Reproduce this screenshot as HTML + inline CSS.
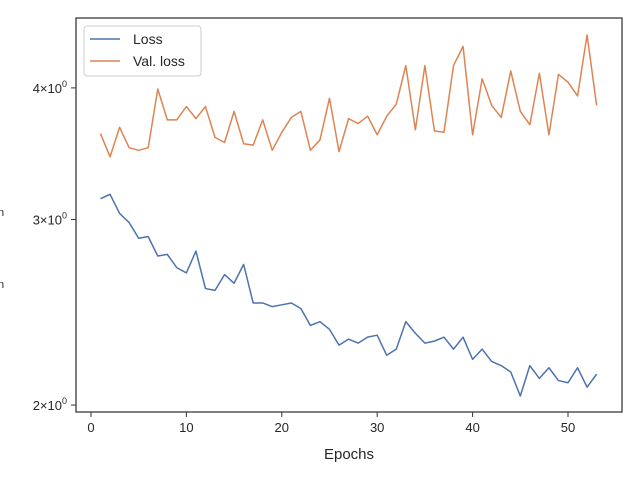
<!DOCTYPE html>
<html><head><meta charset="utf-8"><style>
body{margin:0;background:#fff;}
svg{display:block;font-family:"Liberation Sans","DejaVu Sans",sans-serif;}
</style></head><body>
<svg id="chart" width="640" height="480">
<rect x="0" y="0" width="640" height="480" fill="#fff"/>
<g id="plot"></g>
</svg>
<script>
const epochs = [];
for (let i = 1; i <= 53; i++) epochs.push(i);
const lossValues = [3.14,3.17,3.04,2.98,2.88,2.89,2.77,2.78,2.70,2.67,2.80,2.58,2.57,2.66,2.61,2.72,2.50,2.50,2.48,2.49,2.50,2.47,2.38,2.40,2.36,2.28,2.31,2.29,2.32,2.33,2.23,2.26,2.40,2.34,2.29,2.30,2.32,2.26,2.32,2.21,2.26,2.20,2.18,2.15,2.04,2.18,2.12,2.17,2.11,2.10,2.17,2.08,2.14];
const valLossValues = [3.62,3.44,3.67,3.51,3.49,3.51,3.99,3.73,3.73,3.84,3.74,3.84,3.59,3.55,3.80,3.54,3.53,3.73,3.49,3.63,3.75,3.80,3.49,3.57,3.91,3.48,3.74,3.70,3.76,3.61,3.76,3.86,4.20,3.65,4.20,3.64,3.63,4.20,4.38,3.61,4.08,3.85,3.75,4.15,3.80,3.69,4.13,3.61,4.12,4.05,3.93,4.49,3.85];
const xTicks = [0,10,20,30,40,50];
const yTicks = [2,3,4];

const L=76,R=622,T=18,B=412;
const xMin=-1.57,xMax=55.66;
function xs(v){return L+(v-xMin)/(xMax-xMin)*(R-L);}
const yLo=Math.log(1.97), yHi=Math.log(4.66);
function ys(v){return B-(Math.log(v)-yLo)/(yHi-yLo)*(B-T);}

const NS="http://www.w3.org/2000/svg";
const g=document.getElementById('plot');
function mk(tag,attrs,parent){const e=document.createElementNS(NS,tag);for(const k in attrs)e.setAttribute(k,attrs[k]);(parent||g).appendChild(e);return e;}

function series(vals,color,name){
  const pts=vals.map((v,i)=>xs(epochs[i]).toFixed(2)+','+ys(v).toFixed(2)).join(' ');
  const p=mk('polyline',{points:pts,fill:'none',stroke:color,'stroke-width':1.5,'stroke-linejoin':'round'});
  
  
}
series(lossValues,'#4c72b0','loss-line');
series(valLossValues,'#dd8452','val-loss-line');

xTicks.forEach(t=>{
  const x=xs(t);
  const tk=mk('line',{x1:x,x2:x,y1:B,y2:B+5,stroke:'#333','stroke-width':1});
  
  
  const tx=mk('text',{x:x,y:B+20,'text-anchor':'middle','font-size':13,fill:'#262626'});
  tx.textContent=t;
  
  
});
yTicks.forEach(t=>{
  const y=ys(t);
  const tk=mk('line',{x1:L-5,x2:L,y1:y,y2:y,stroke:'#333','stroke-width':1});
  
  
  const tx=mk('text',{x:L-9,y:y+5,'text-anchor':'end','font-size':13,fill:'#262626'});
  tx.innerHTML=t+'\u00d710<tspan dy="-6" font-size="9">0</tspan>';
  
  
});

const fr=mk('rect',{x:L,y:T,width:R-L,height:B-T,fill:'none',stroke:'#333','stroke-width':1.25});



const xl=mk('text',{x:(L+R)/2,y:459,'text-anchor':'middle','font-size':15,fill:'#262626'});
xl.textContent='Epochs';



const m1=mk('text',{x:-2,y:216,'font-size':11,fill:'#262626'});m1.textContent='n';


const m2=mk('text',{x:-2,y:288,'font-size':11,fill:'#262626'});m2.textContent='n';



const lg=mk('g',{});


mk('rect',{x:84,y:26,width:117,height:50,rx:3,fill:'#fff',stroke:'#ccc','stroke-width':1},lg);
mk('line',{x1:90,x2:120,y1:39,y2:39,stroke:'#4c72b0','stroke-width':1.5},lg);
const lt1=mk('text',{x:133,y:44,'font-size':14,fill:'#262626'},lg);lt1.textContent='Loss';


mk('line',{x1:90,x2:120,y1:61,y2:61,stroke:'#dd8452','stroke-width':1.5},lg);
const lt2=mk('text',{x:133,y:66,'font-size':14,fill:'#262626'},lg);lt2.textContent='Val. loss';


</script>
</body></html>
